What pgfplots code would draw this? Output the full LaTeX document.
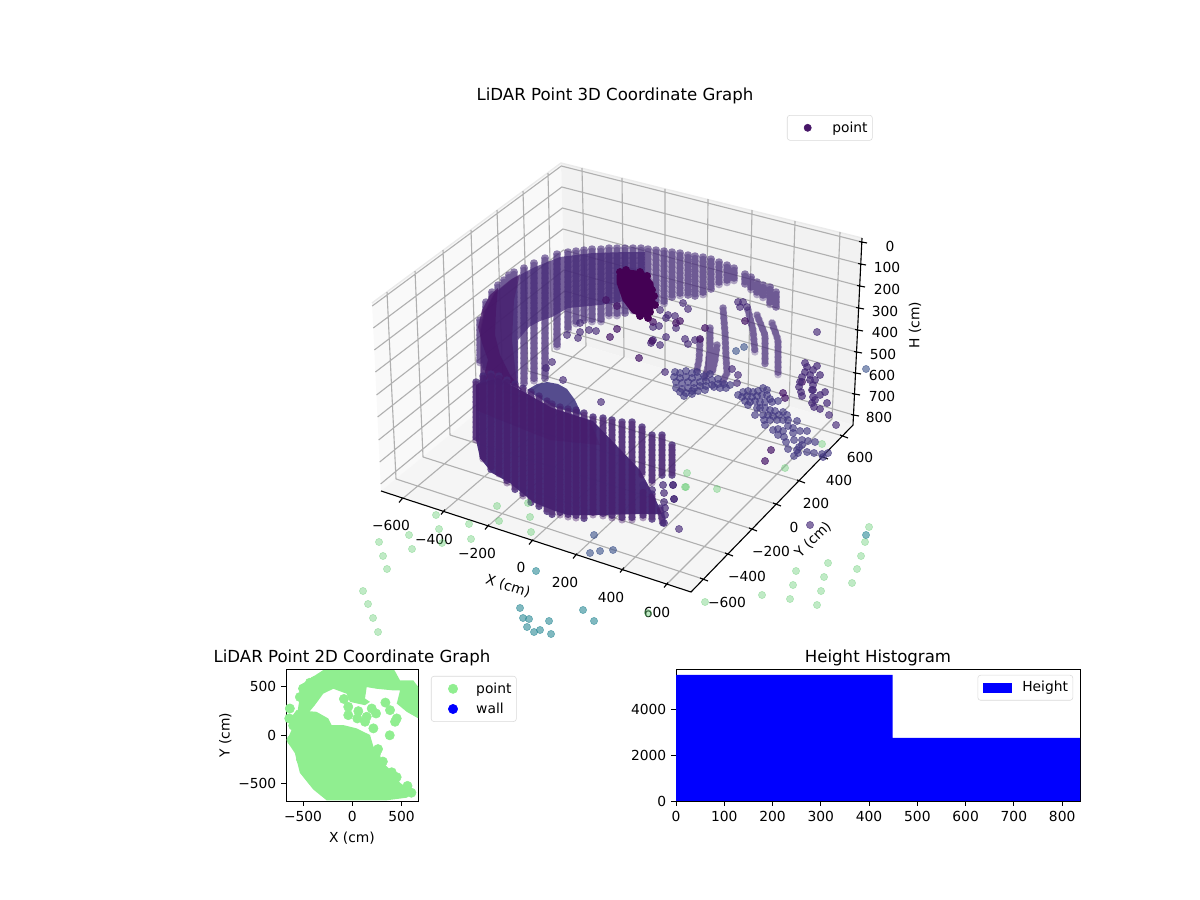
\documentclass[border=0pt]{standalone}
\usepackage{fontspec}
\usepackage{pgfplots}
\usepackage{pgfplotstable}
\pgfplotsset{compat=1.18}
\setmainfont{DejaVu Sans}
\definecolor{vA}{HTML}{440154}
\definecolor{vB}{HTML}{471668}
\definecolor{vC}{HTML}{462A78}
\definecolor{vD}{HTML}{443A83}
\definecolor{vE}{HTML}{3B528B}
\definecolor{vF}{HTML}{2C8A96}
\definecolor{vG}{HTML}{62CB70}
\definecolor{lg}{HTML}{90EE90}
\tikzset{
 cols/.style={line width=5.4bp,line cap=round,dash pattern=on 0.01pt off 3.6bp},
 colsb/.style={line width=5.4bp,line cap=round,dash pattern=on 0.01pt off 3.6bp,dash phase=1.8bp},
 dots/.style={only marks,mark=*,mark size=2.6bp,mark options={draw=none}},
}
% upper wall columns: x y pairs, nan breaks the line
\pgfplotstableread[row sep=\\]{x y\\
480 320\\480 365\\nan nan\\486 302\\486 368\\nan nan\\492 292\\492 370\\nan nan\\498 285\\498 372\\nan nan\\504 280\\504 376\\nan nan\\509 275\\509 380\\nan nan\\514 272\\514 383\\nan nan\\524 268\\524 384\\nan nan\\534 263\\534 381\\nan nan\\545 258\\545 379\\nan nan\\557 254\\557 347\\nan nan\\568 252\\568 331\\nan nan\\576 251\\576 326\\nan nan\\584 250\\584 322\\nan nan\\592 249\\592 322\\nan nan\\601 249\\601 322\\nan nan\\609 248\\609 318\\nan nan\\617 248\\617 316\\nan nan\\625 248\\625 315\\nan nan\\633 248\\633 313\\nan nan\\641 248\\641 310\\nan nan\\648 249\\648 308\\nan nan\\656 250\\656 305\\nan nan\\664 251\\664 305\\nan nan\\672 252\\672 298\\nan nan\\680 253\\680 297\\nan nan\\688 255\\688 297\\nan nan\\695 256\\695 297\\nan nan\\703 257\\703 295\\nan nan\\711 259\\711 290\\nan nan\\719 262\\719 287\\nan nan\\727 265\\727 283\\nan nan\\734 268\\734 283\\nan nan\\745 274\\745 286\\nan nan\\751 277\\751 292\\nan nan\\757 282\\757 296\\nan nan\\763 285\\763 300\\nan nan\\770 287\\770 305\\nan nan\\776 292\\776 308\\
}\upcols
\pgfplotstableread[row sep=\\]{x y\\
723 308\\725 333\\726 357\\727 373\\722 383\\nan nan\\710 328\\710 350\\708 367\\705 378\\nan nan\\700 340\\699 360\\697 370\\nan nan\\717 345\\715 360\\712 373\\nan nan\\748 310\\753 330\\755 353\\nan nan\\757 315\\765 335\\765 365\\nan nan\\772 323\\778 340\\778 377\\
}\sidecols
\pgfplotstableread[row sep=\\]{x y\\
476 382\\476 440\\nan nan\\483 376\\483 460\\nan nan\\491 374\\491 470\\nan nan\\499 376\\499 476\\nan nan\\507 380\\507 483\\nan nan\\515 384\\515 490\\nan nan\\523 388\\523 497\\nan nan\\531 392\\531 503\\nan nan\\539 396\\539 508\\nan nan\\547 401\\547 512\\nan nan\\552 404\\552 515\\nan nan\\560 407\\560 516\\nan nan\\568 409\\568 518\\nan nan\\576 410\\576 519\\nan nan\\584 413\\584 520\\nan nan\\593 417\\593 517\\nan nan\\603 418\\603 518\\nan nan\\612 420\\612 519\\nan nan\\622 422\\622 520\\nan nan\\632 422\\632 520\\nan nan\\642 427\\642 477\\nan nan\\652 435\\652 483\\nan nan\\662 435\\662 477\\nan nan\\672 445\\672 477\\nan nan\\643 490\\643 520\\nan nan\\652 494\\652 521\\nan nan\\660 508\\663 524\\
}\lowcols
\begin{document}
\begin{tikzpicture}[x=1bp,y=1bp,font=\fontsize{10}{12}\selectfont]
\path[use as bounding box] (0,0) rectangle (864,648);
\begin{axis}[at={(0,0)},anchor=south west,scale only axis,width=864bp,height=648bp,
 xmin=0,xmax=1200,ymin=0,ymax=900,y dir=reverse,hide axis,clip=false,unbounded coords=jump]
% panes
\addplot[fill=black!2.5,draw=none] coordinates {(372,303)(561,163)(566,340)(381,491)};
\addplot[fill=black!5,draw=none] coordinates {(561,163)(862,238)(853,425)(566,340)};
\addplot[fill=black!3.75,draw=none] coordinates {(381,491)(566,340)(853,425)(691,592)};
\addplot[draw=black!8,line width=1bp] coordinates {(372,303)(561,163)(862,238)};
% grid
\addplot[draw=black!31,line width=.8bp] coordinates {
(401,500)(586,346)(0,nan)(443,512)(624,357)(0,nan)(487,527)(665,369)(0,nan)(531,542)(706,382)(0,nan)(575,556)(748,394)(0,nan)(622,570)(789,406)(0,nan)(666,585)(832,419)(0,nan)
(703,579)(396,479)(0,nan)(728,554)(423,457)(0,nan)(752,529)(450,435)(0,nan)(776,504)(477,413)(0,nan)(800,481)(503,391)(0,nan)(823,457)(528,371)(0,nan)(843,436)(552,351)(0,nan)
(582,168)(586,346)(0,nan)(622,178)(624,357)(0,nan)(665,189)(665,369)(0,nan)(708,199)(706,382)(0,nan)(752,210)(748,394)(0,nan)(795,221)(789,406)(0,nan)(840,232)(832,419)(0,nan)
(387,292)(396,479)(0,nan)(415,271)(423,457)(0,nan)(443,250)(450,435)(0,nan)(471,230)(477,413)(0,nan)(497,210)(503,391)(0,nan)(523,191)(528,371)(0,nan)(548,173)(552,351)(0,nan)
(372.2,306)(561.3,166)(861.8,242)(0,nan)(373.3,328)(561.8,187)(860.7,264)(0,nan)(374.3,350)(562.4,208)(859.6,286)(0,nan)(375.4,372)(562.9,229)(858.5,308)(0,nan)(376.5,395)(563.4,250)(857.4,330)(0,nan)(377.6,417)(563.9,270)(856.3,352)(0,nan)(378.6,440)(564.5,291)(855.2,373)(0,nan)(379.7,462)(565,311)(854.1,394)(0,nan)(380.6,484)(565.5,331)(853.5,415)
};
% axis lines and ticks
\addplot[draw=black,line width=.8bp] coordinates {(381,491)(691,592)(853,425)(862,238)(0,nan)
(403,497.5)(399,502.5)(0,nan)(445,509.5)(441,514.5)(0,nan)(489,524.5)(485,529.5)(0,nan)(533,539.5)(529,544.5)(0,nan)(577,553.5)(573,558.5)(0,nan)(624,567.5)(620,572.5)(0,nan)(668,582.5)(664,587.5)(0,nan)
(700,578)(708,581)(0,nan)(725,553)(733,556)(0,nan)(749,528)(757,531)(0,nan)(773,503)(781,506)(0,nan)(797,480)(805,483)(0,nan)(820,456)(828,459)(0,nan)(840,435)(848,438)(0,nan)
(859,241.5)(867,243)(0,nan)(858,263.5)(866,265)(0,nan)(857,285.5)(865,287)(0,nan)(856,307.5)(864,309)(0,nan)(855,329.5)(863,331)(0,nan)(854,351.5)(862,353)(0,nan)(853,372.5)(861,374)(0,nan)(852,393.5)(860,395)(0,nan)(851,414.5)(859,416)};
% pale outliers
\addplot[dots,color=vG,opacity=.4] coordinates {(497,506)(528,503)(530,517)(499,521)(531,532)(436,515)(439,529)(469,524)(471,539)(409,535)(412,549)(442,543)(379,542)(383,556)(387,569)(363,591)(368,604)(373,618)(378,632)(648,613)(685,487)(717,489)(869,527)(865,542)(861,556)(857,569)(852,583)(828,563)(824,577)(821,591)(817,605)(796,571)(793,585)(790,599)(762,595)(705,602)(822,444)(785,468)(687,473)(686,487)};
\addplot[dots,color=vF,opacity=.6] coordinates {(536,571)(520,608)(523,618)(529,619)(527,627)(534,632)(540,630)(549,621)(551,634)(583,610)(594,621)(866,535)};
\addplot[dots,color=vE,opacity=.6] coordinates {(594,535)(590,553)(600,551)(613,550)(736,351)(744,347)(866,369)};
% upper wall: base area, then its columns
\addplot[fill=vC,fill opacity=.72,draw=none] coordinates {(481,330)(485,312)(495,293)(512,279)(535,267)(560,257)(593,253)(627,252)(645,252)(645,298)(600,305)(568,308)(552,317)(540,321)(529,327)(518,340)(518,383)(481,383)};
\addplot[cols,color=vC,opacity=.6] table[x=x,y=y] {\upcols};
\addplot[colsb,color=vC,opacity=.4] table[x=x,y=y] {\upcols};
\addplot[fill=vB,fill opacity=.45,draw=none] coordinates {(480,330)(484,312)(494,293)(510,280)(520,274)(514,300)(512,340)(517,385)(480,385)};
\addplot[fill=vB,fill opacity=.75,draw=none] coordinates {(478,327)(482,310)(490,295)(498,288)(496,310)(495,335)(500,355)(510,375)(522,390)(500,380)(482,383)(488,360)(482,343)};
% scattered points behind
\addplot[dots,color=vC,opacity=.65] coordinates {(580,323)(589,330)(596,331)(578,338)(567,335)(580,332)(552,362)(546,368)(563,380)(653,327)(659,326)(666,337)(685,339)(688,344)(660,345)(651,343)(653,340)(695,340)(676,328)(668,315)(675,316)(666,318)(683,303)(688,309)(660,310)(665,372)(817,332)(829,415)(836,425)(601,402)(679,529)(810,525)(674,499)(673,485)(738,302)(743,302)(740,307)(747,307)(737,383)(732,369)(738,375)};
\addplot[dots,color=vB,opacity=.7] coordinates {(606,300)(617,306)(617,329)(610,337)(653,322)(639,358)(652,341)(680,321)(676,323)(705,328)(700,339)(745,321)(783,393)(785,398)(802,382)(771,450)(765,461)};
\addplot[cols,color=vC,opacity=.6] table[x=x,y=y] {\sidecols};
\addplot[colsb,color=vC,opacity=.3] table[x=x,y=y] {\sidecols};
\addplot[dots,color=vD,opacity=.65] coordinates {(675,372)(680,373)(686,371)(692,373)(697,372)(674,377)(680,378)(686,377)(692,378)(698,377)(704,376)(710,374)(676,382)(682,383)(688,382)(694,383)(700,382)(706,381)(712,380)(718,379)(676,388)(682,389)(688,388)(694,388)(700,386)(706,386)(712,385)(718,384)(724,384)(730,385)(680,392)(686,393)(692,391)(698,391)(714,387)(720,388)(726,388)(684,396)(692,394)(705,390)
(738,395)(743,392)(748,391)(753,392)(758,391)(763,388)(767,390)(742,397)(747,396)(752,397)(757,396)(762,395)(767,395)(770,399)(745,401)(750,402)(755,401)(760,402)(765,402)(772,402)(778,401)(748,405)
(755,415)(757,408)(760,408)(765,408)(770,410)(775,411)(783,412)(763,415)(768,415)(773,416)(779,415)(787,415)(764,420)(770,420)(777,420)(783,420)(788,420)(765,425)(797,421)(788,426)(773,430)(778,429)(783,431)(793,428)(778,435)(784,437)(793,433)(800,431)(807,431)(786,442)(794,440)(802,440)(808,441)(815,442)(788,449)(797,450)(799,447)(802,445)(794,456)(798,453)(807,452)(814,453)(822,454)(828,453)(823,457)};
\addplot[dots,color=vC,opacity=.7] coordinates {(805,363)(807,367)(805,372)(802,377)(800,382)(799,387)(801,392)(802,396)(817,366)(813,370)(810,375)(810,380)(812,390)(813,397)(812,403)(820,375)(815,380)(813,385)(813,390)(825,392)(820,395)(815,400)(814,407)(820,409)(827,403)};
% dark cluster
\addplot[fill=vA,draw=vA,line width=2bp,line join=round] coordinates {(618,275)(623,270)(643,273)(652,283)(654,300)(651,313)(643,316)(633,312)(624,300)(618,283)(618,275)};
\addplot[dots,color=vA] coordinates {(620,272)(626,270)(640,272)(652,290)(655,305)(650,312)(648,318)(640,316)(654,296)(647,276)};
% lower band
\addplot[fill=vD,fill opacity=.9,draw=none] coordinates {(527,390)(537,384)(547,382)(558,384)(567,389)(575,400)(582,415)(552,406)};
\addplot[fill=vC,fill opacity=.97,draw=none] coordinates {(476,385)(483,380)(498,378)(522,391)(552,408)(593,421)(640,470)(655,498)(662,514)(640,514)(598,515)(568,515)(555,511)(535,503)(522,493)(510,483)(492,473)(480,458)(476,440)};
\addplot[cols,color=vC,opacity=.8] table[x=x,y=y] {\lowcols};
\addplot[colsb,color=vB,opacity=.4] table[x=x,y=y] {\lowcols};
\addplot[fill=vB,fill opacity=.3,draw=none] coordinates {(476,385)(498,378)(522,391)(552,408)(590,421)(600,445)(550,440)(500,420)(476,410)};
\addplot[dots,color=vC,opacity=.7] coordinates {(643,485)(652,490)(663,485)(664,493)(664,502)(665,508)(665,515)(664,523)(673,485)(674,499)};
% tick labels
\node at (axis cs:391,525) {−600};\node at (axis cs:434,539) {−400};\node at (axis cs:477,553) {−200};\node at (axis cs:521,567) {0};\node at (axis cs:565,582) {200};\node at (axis cs:611,597) {400};\node at (axis cs:657,612) {600};
\node at (axis cs:727,602) {−600};\node at (axis cs:747,576) {−400};\node at (axis cs:771,551) {−200};\node at (axis cs:794,527) {0};\node at (axis cs:816,503) {200};\node at (axis cs:839,480) {400};\node at (axis cs:860,457) {600};
\node at (axis cs:890,246) {0};\node at (axis cs:887,267) {100};\node at (axis cs:887,289) {200};\node at (axis cs:885,311) {300};\node at (axis cs:885,332) {400};\node at (axis cs:883,354) {500};\node at (axis cs:882,375) {600};\node at (axis cs:882,396) {700};\node at (axis cs:879,417) {800};
\node[rotate=-18] at (axis cs:508,586) {X (cm)};
\node[rotate=45] at (axis cs:813,540) {Y (cm)};
\node[rotate=90] at (axis cs:915,325) {H (cm)};
\node[font=\fontsize{12}{14}\selectfont] at (axis cs:615,96) {LiDAR Point 3D Coordinate Graph};
\end{axis}
% legend of the 3D graph
\begin{axis}[at={(0,0)},anchor=south west,scale only axis,width=864bp,height=648bp,
 xmin=0,xmax=1200,ymin=0,ymax=900,hide axis,
 legend image code/.code={\path (0,0) (28.5bp,0);\draw[#1,only marks] plot coordinates {(13.5bp,0bp)};},
 legend style={at={(0.6558,0.8722)},anchor=north west,draw=black!15,rounded corners=2bp,fill=white,inner xsep=1bp,inner ysep=2.5bp,font=\fontsize{10}{12}\selectfont,nodes={inner xsep=2.5bp}},
 legend cell align=left]
\addlegendimage{color=vB,mark=*,mark size=2.6bp,mark options={draw=none}}
\addlegendentry{point}
\end{axis}
% 2D scatter
\begin{axis}[at={(205.92bp,71.28bp)},anchor=south west,scale only axis,width=95.04bp,height=95.04bp,
 xmin=-673,xmax=667,ymin=-675,ymax=681,
 xtick={-500,0,500},xticklabels={−500,0,500},ytick={-500,0,500},yticklabels={−500,0,500},
 tick align=outside,tick pos=left,major tick length=3.5bp,axis line style={line width=.7bp},tick style={line width=.7bp,black},
 title={LiDAR Point 2D Coordinate Graph},title style={font=\fontsize{12}{14}\selectfont,yshift=-7.6bp},
 xlabel={X (cm)},ylabel={Y (cm)},xlabel style={yshift=-.6bp},ylabel style={yshift=-2bp},
 legend image code/.code={\path (0,0) (28.5bp,0);\draw[#1,only marks] plot coordinates {(14.5bp,0bp)};},
 legend style={at={(1.098,0.947)},anchor=north west,draw=black!15,rounded corners=2bp,inner xsep=1bp,inner ysep=2.5bp,row sep=1.5bp,font=\fontsize{10}{12}\selectfont,nodes={inner xsep=2.5bp}},
 legend cell align=left]
\addplot[fill=lg,draw=none,forget plot] coordinates {(-661,-47)(-617,54)(-617,190)(-566,258)(-363,241)(-244,173)(-210,105)(-92,105)(44,71)(180,3)(214,-115)(281,-200)(298,-268)(417,-386)(485,-488)(620,-590)(553,-641)(349,-668)(-261,-668)(-397,-556)(-532,-386)(-583,-183)(-651,-81)};
\addplot[fill=lg,draw=none,forget plot] coordinates {(-532,512)(-431,580)(-295,670)(427,670)(485,563)(620,563)(671,495)(671,173)(553,241)(451,326)(485,461)(417,461)(247,478)(146,495)(129,377)(180,343)(129,309)(-24,343)(-58,427)(-193,478)(-295,427)(-380,310)(-450,225)(-560,225)(-532,393)};
\addplot[only marks,mark=*,mark size=3.35bp,mark options={draw=none},color=lg,forget plot] coordinates {(-85,373)(-41,292)(-41,207)(61,248)(146,190)(197,275)(241,224)(214,71)(129,139)(51,173)(336,336)(383,258)(451,173)(434,139)(380,0)(261,-142)(-634,275)(-640,173)(-617,-47)(-532,393)(-430,540)(600,-590)(560,-520)(450,-430)(-600,100)(-500,480)(-380,560)(-520,-250)(-440,-400)(-300,-540)(400,-380)(310,-270)(240,-190)};
\addlegendimage{mark=*,mark size=3.35bp,color=lg,mark options={draw=none}}
\addlegendentry{point}
\addlegendimage{mark=*,mark size=3.35bp,color=blue,mark options={draw=none}}
\addlegendentry{wall}
\end{axis}
% histogram
\begin{axis}[at={(486.72bp,71.28bp)},anchor=south west,scale only axis,width=290.88bp,height=95.04bp,
 xmin=0,xmax=837,ymin=0,ymax=5739,
 xtick={0,100,200,300,400,500,600,700,800},xticklabels={0,100,200,300,400,500,600,700,800},ytick={0,2000,4000},yticklabels={0,2000,4000},
 tick align=outside,tick pos=left,major tick length=3.5bp,axis line style={line width=.7bp},tick style={line width=.7bp,black},
 title={Height Histogram},title style={font=\fontsize{12}{14}\selectfont,yshift=-7.6bp},
 legend image code/.code={\path (-2.5bp,0) (26bp,0);\fill[blue,sharp corners] (0,-3.6bp) rectangle (21bp,3.6bp);},
 legend style={at={(0.983,0.955)},anchor=north east,draw=black!15,rounded corners=2bp,inner xsep=1bp,inner ysep=2.5bp,font=\fontsize{10}{12}\selectfont,nodes={inner xsep=2.5bp}},
 legend cell align=left]
\addplot[ybar interval,fill=blue,draw=none] coordinates {(0,5478)(449,2739)(837,2739)};
\addlegendentry{Height}
\end{axis}
\end{tikzpicture}
\end{document}
